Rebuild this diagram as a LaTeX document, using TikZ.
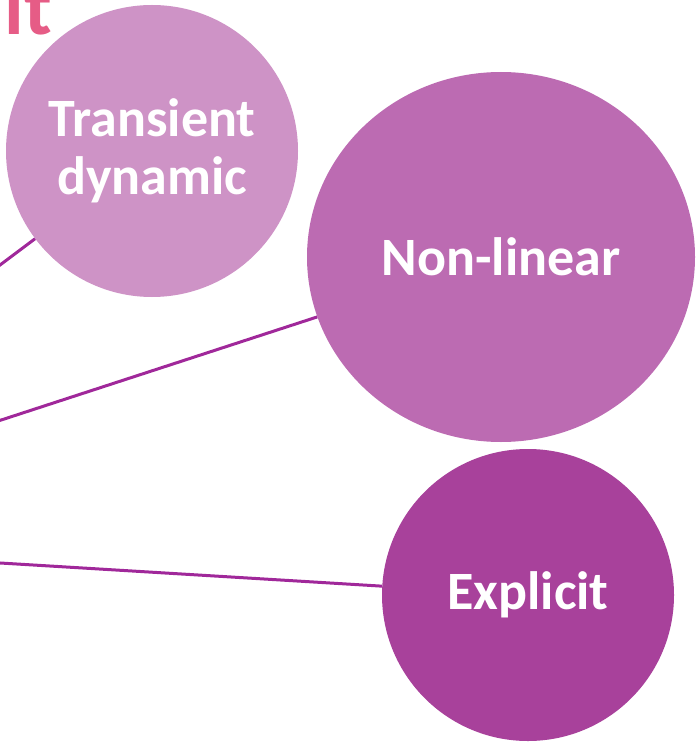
\documentclass[tikz,border=0pt]{standalone}
\usepackage{fontspec}
\setmainfont{Carlito}
\usetikzlibrary{shapes.geometric}
\definecolor{cTrans}{HTML}{CE93C6}
\definecolor{cNon}{HTML}{BC6BB2}
\definecolor{cExp}{HTML}{A8419B}
\definecolor{cLine}{HTML}{A0289A}
\definecolor{cTitle}{HTML}{E65C86}
\tikzset{
  bubble/.style={circle, inner sep=0pt, text=white, align=center,
    font=\fontsize{54}{58}\selectfont\bfseries},
  link/.style={draw=cLine, line width=3pt}
}
\begin{document}
\begin{tikzpicture}[x=1pt,y=-1pt]
\useasboundingbox (0,0) rectangle (697,743);
\node[anchor=base east, text=cTitle, inner sep=0pt,
  font=\fontsize{80}{80}\selectfont\bfseries] (title) at (52,35) {it};
\node[bubble, fill=cTrans, minimum size=292pt] (trans) at (152,151) {Transient\\dynamic};
\node[bubble, ellipse, fill=cNon, minimum width=388pt, minimum height=370pt] (nonlin) at (501,257) {Non-linear};
\node[bubble, fill=cExp, minimum size=292pt] (expl) at (528,595) {Explicit};
\coordinate (s1) at (-8,271);
\coordinate (s2) at (-8,423);
\coordinate (s3) at (-8,562.5);
\draw[link] (s1) -- (trans);
\draw[link] (s2) -- (nonlin);
\draw[link] (s3) -- (expl);
\end{tikzpicture}
\end{document}
